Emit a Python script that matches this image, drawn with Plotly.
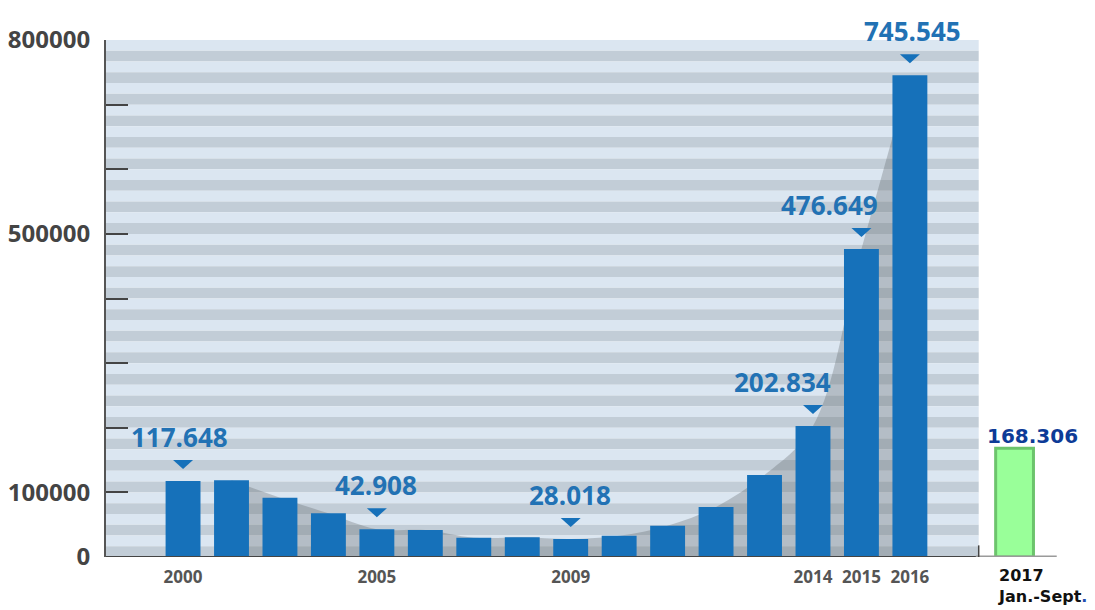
import plotly.graph_objects as go

# ---- data ----
years = ["2000", "2001", "2002", "2003", "2005", "2006", "2007", "2008",
         "2009", "2010", "2011", "2012", "2013", "2014", "2015", "2016"]
values = [117648, 118700, 91800, 67600, 42908, 41800, 29900, 30500,
          28018, 33000, 48500, 77400, 127000, 202834, 476649, 745545]
labeled_years = ["2000", "2005", "2009", "2014", "2015", "2016"]
label_texts = ["117.648", "42.908", "28.018", "202.834", "476.649", "745.545"]
tick_years = ["2000", "2005", "2009", "2014", "2015", "2016"]
extra_label = "2017<br>Jan.-Sept<span style='color:#1f4fb0'>.</span>"
extra_value = 168306
extra_text = "168.306"
y_tickvals = [0, 100000, 200000, 300000, 400000, 500000, 600000, 700000, 800000]
y_ticktext = ["0", "100000", "", "", "", "500000", "", "", "800000"]

# ---- layout / style constants ----
XL, XR_PLOT, XR = -1.59, 16.42, 18.82
EXTRA_X = 17.16
BLUE = "#1671ba"
LABEL_BLUE = "#2272b4"
LABEL_XSHIFT = {"2000": -4, "2005": -1, "2009": -1, "2014": -30, "2015": -32, "2016": 3}

x_pos = list(range(len(years)))
idx = {y: i for i, y in enumerate(years)}

fig = go.Figure()

# gray shaded curve behind bars (base subplot, drawn below the overlay)
fig.add_trace(go.Scatter(
    x=x_pos[1:], y=values[1:], mode="lines",
    line=dict(shape="spline", width=0, smoothing=1.0),
    fill="tozeroy", fillcolor="rgba(90,95,100,0.30)",
    hoverinfo="skip", showlegend=False, xaxis="x", yaxis="y"))

fig.add_trace(go.Bar(
    x=x_pos, y=values, width=0.72, marker=dict(color=BLUE, line=dict(width=0)),
    showlegend=False, xaxis="x2", yaxis="y2"))

fig.add_trace(go.Bar(
    x=[EXTRA_X], y=[extra_value], width=0.78,
    marker=dict(color="#99ff99", line=dict(color="#6cc46c", width=3)),
    showlegend=False, xaxis="x2", yaxis="y2"))

shapes = []
# stripes
n = 48
step = 800000 / n
for k in range(n):
    top = 800000 - k * step
    shapes.append(dict(type="rect", xref="x", yref="y", x0=XL, x1=XR_PLOT,
                       y0=top - step, y1=top, layer="below", line=dict(width=0),
                       fillcolor="#dbe6f1" if k % 2 == 0 else "#c2cdd7"))
# axis lines
shapes.append(dict(type="line", xref="x", yref="y", x0=XL, x1=XR_PLOT, y0=0, y1=0,
                   line=dict(color="#444444", width=2)))
shapes.append(dict(type="line", xref="x", yref="y", x0=16.36, x1=18.03, y0=0, y1=0,
                   line=dict(color="#9a9a9a", width=3)))
shapes.append(dict(type="line", xref="x", yref="y", x0=XR_PLOT, x1=XR_PLOT, y0=0, y1=18000,
                   line=dict(color="#444444", width=1.5)))

annotations = []
for yr, txt in zip(labeled_years, label_texts):
    i = idx[yr]
    v = values[i]
    shapes.append(dict(type="path", xref="x", yref="y", xsizemode="pixel", ysizemode="pixel",
                       xanchor=i, yanchor=v,
                       path="M -10,21 L 10,21 L 0,12 Z",
                       fillcolor=BLUE, line=dict(width=0)))
    annotations.append(dict(x=i, y=v, xref="x", yref="y", text=txt, showarrow=False,
                            yanchor="middle", yshift=44, xshift=LABEL_XSHIFT[yr],
                            font=dict(family="Open Sans", size=26, color=LABEL_BLUE, weight="bold")))

annotations.append(dict(x=EXTRA_X, y=extra_value, xref="x", yref="y", text=extra_text,
                        showarrow=False, yanchor="middle", yshift=12, xshift=18,
                        font=dict(family="DejaVu Sans", size=20, color="#0d3b97", weight="bold")))
annotations.append(dict(x=EXTRA_X, y=0, xref="x", yref="y", text=extra_label, showarrow=False,
                        xanchor="left", yanchor="top", align="left", xshift=-19, yshift=-7,
                        font=dict(family="DejaVu Sans", size=16, color="#111111", weight="bold")))

# page has an 8px body margin: figure is 8px smaller and margins compensate
fig.update_layout(
    width=1087, height=602,
    margin=dict(l=98, r=0, t=32, b=53),
    plot_bgcolor="white", paper_bgcolor="white",
    bargap=0.28,
    shapes=shapes, annotations=annotations,
    xaxis=dict(range=[XL, XR], tickvals=[idx[y] for y in tick_years], ticktext=tick_years,
               showgrid=False, zeroline=False, showline=False, ticks="",
               ticklabelstandoff=8,
               tickfont=dict(family="Open Sans", size=17, color="#555555", weight="bold")),
    yaxis=dict(range=[0, 800000], tickvals=y_tickvals, ticktext=y_ticktext,
               showgrid=False, zeroline=False, showline=True, linecolor="#555555", linewidth=2,
               ticks="inside", ticklen=22, tickwidth=2, tickcolor="#444444",
               ticklabelstandoff=9,
               tickfont=dict(family="Open Sans", size=24, color="#444444", weight="bold")),
    xaxis2=dict(overlaying="x", matches="x", visible=False),
    yaxis2=dict(overlaying="y", matches="y", visible=False),
)

fig.write_html("out.html")
